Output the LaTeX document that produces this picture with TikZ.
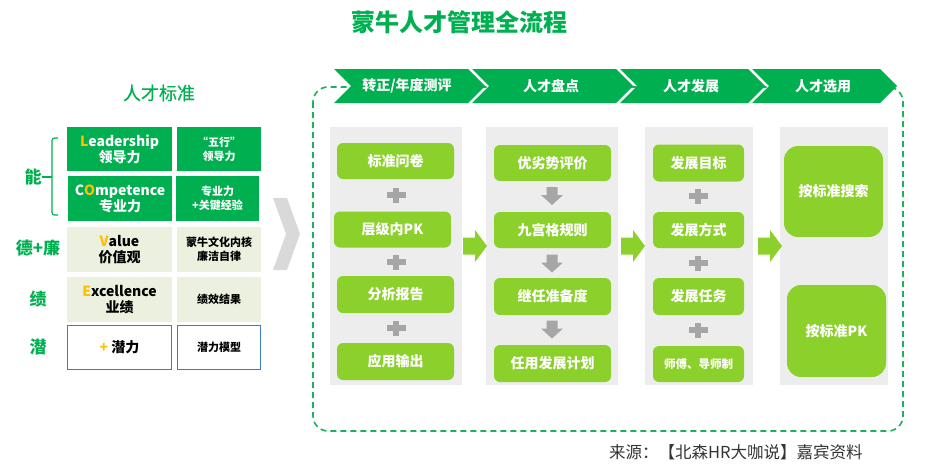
\documentclass[tikz,border=0pt]{standalone}
\usepackage{fontspec}
\setmainfont{Noto Sans CJK SC}
\newfontfamily\cjkmid{Noto Sans CJK SC}[FakeBold=0.6]
\definecolor{dg}{HTML}{00B050}
\definecolor{lg}{HTML}{8CD12B}
\definecolor{pg}{HTML}{EDEDED}
\definecolor{ag}{HTML}{A6A6A6}
\definecolor{lr}{HTML}{EBF1DE}
\definecolor{bl}{HTML}{3A7CC8}
\definecolor{og}{HTML}{FFC000}
\definecolor{cg}{HTML}{D9D9D9}
\definecolor{dsh}{HTML}{1DB15A}
\definecolor{srcc}{HTML}{333333}
\newcommand\fsz[2]{\fontsize{#1}{#2}\selectfont}
\begin{document}
\begin{tikzpicture}[x=1pt,y=-1pt,
  hdr/.style={font=\bfseries\fsz{14}{16}, text=white, inner sep=0pt},
  gbox/.style={fill=lg, rounded corners=6pt, text=white, font=\bfseries\fsz{14}{16}, inner sep=0pt, align=center},
  bigbox/.style={fill=lg, rounded corners=14pt, text=white, font=\bfseries\fsz{14}{16}, inner sep=0pt},
  panel/.style={fill=pg, inner sep=0pt},
  lrow/.style={inner sep=0pt, align=center, font=\bfseries\fsz{14}{16}},
  rrow/.style={inner sep=0pt, align=center, font=\bfseries\fsz{11}{14}},
  side/.style={text=dg, font=\bfseries\fsz{17}{19}, inner sep=0pt},
  plusmark/.pic={\fill[ag] (-9.5,-3) rectangle (9.5,3); \fill[ag] (-3,-7.5) rectangle (3,7.5);},
  downarrow/.pic={\fill[ag] (-5.5,-9) -- (5.5,-9) -- (5.5,-1) -- (11,-1) -- (0,9) -- (-11,-1) -- (-5.5,-1) -- cycle;},
  rightarrow/.pic={\fill[lg] (0,-8.5) -- (12,-8.5) -- (12,-16) -- (24,0) -- (12,16) -- (12,8.5) -- (0,8.5) -- cycle;}
]
\useasboundingbox (0,0) rectangle (945,474);

% title
\node[font=\bfseries\fsz{24}{28}, text=dg, inner sep=0pt] (title) at (459.5,22) {蒙牛人才管理全流程};

% ---------------- left part ----------------
\node[text=dg, font=\cjkmid\fsz{18}{20}, inner sep=0pt] (std) at (159,93) {人才标准};

\node[lrow, fill=dg, text=white, minimum width=105pt, minimum height=44pt] (r1a) at (119.5,149) {{\color{og}L}eadership\\领导力};
\node[rrow, fill=dg, text=white, minimum width=84pt, minimum height=44pt] (r1b) at (219,149) {“五行”\\领导力};
\node[lrow, fill=dg, text=white, minimum width=104pt, minimum height=45pt] (r2a) at (120,198.5) {C{\color{og}O}mpetence\\专业力};
\node[rrow, fill=dg, text=white, minimum width=83pt, minimum height=45pt] (r2b) at (217.5,198.5) {专业力\\+关键经验};
\node[lrow, fill=lr, text=black, minimum width=105pt, minimum height=45pt] (r3a) at (119.5,249.5) {{\color{og}V}alue\\价值观};
\node[rrow, fill=lr, text=black, minimum width=84pt, minimum height=45pt] (r3b) at (219,249.5) {蒙牛文化内核\\廉洁自律};
\node[lrow, fill=lr, text=black, minimum width=105pt, minimum height=45pt] (r4a) at (119.5,299.5) {{\color{og}E}xcellence\\业绩};
\node[rrow, fill=lr, text=black, minimum width=84pt, minimum height=45pt] (r4b) at (219,299.5) {绩效结果};
\node[lrow, fill=white, draw=bl, line width=1.4pt, text=black, minimum width=104pt, minimum height=44pt] (r5a) at (119.5,347.5) {{\color{og}+} 潜力};
\node[rrow, fill=white, draw=bl, line width=1.4pt, text=black, minimum width=83pt, minimum height=44pt] (r5b) at (219,347.5) {潜力模型};

\node[side] (neng) at (33,177) {能};
\node[side] (de) at (38,248) {德+廉};
\node[side] (ji) at (38,299) {绩};
\node[side] (qian) at (38,347) {潜};

\coordinate (brmid) at (52,177);
\draw[dg, line width=1.2pt, rounded corners=2.5pt] (58,138) -- (52,138) -- (52,215) -- (58,215);
\draw[dg, line width=1.2pt] (neng.east) -- (brmid);

% big grey chevron
\fill[cg] (273,198) -- (287,198) -- (300,234) -- (287,270) -- (273,270) -- (286,234) -- cycle;

% ---------------- right part ----------------
\draw[dsh, line width=1.6pt, dash pattern=on 6pt off 4pt, rounded corners=15pt] (313,87) rectangle (903,431);

\foreach \L/\R in {334/468, 472/616, 620/748, 752/880}{
  \fill[dg] (\L,69) -- (\R,69) -- (\R+17,86) -- (\R,103) -- (\L,103) -- (\L+17,86) -- cycle;
}
\node[hdr] (h1) at (407,86) {转正/年度测评};
\node[hdr] (h2) at (551,86) {人才盘点};
\node[hdr] (h3) at (691,86) {人才发展};
\node[hdr] (h4) at (823,86) {人才选用};

% panels
\node[panel, minimum width=132pt, minimum height=258pt] (p1) at (396,256) {};
\node[panel, minimum width=132pt, minimum height=258pt] (p2) at (552,256) {};
\node[panel, minimum width=108pt, minimum height=258pt] (p3) at (699,256) {};
\node[panel, minimum width=108pt, minimum height=258pt] (p4) at (834,256) {};

% panel 1
\node[gbox, minimum width=117pt, minimum height=36pt] (a1) at (395.5,161) {标准问卷};
\node[gbox, minimum width=117pt, minimum height=36pt] (a2) at (392.5,229.5) {层级内PK};
\node[gbox, minimum width=117pt, minimum height=37pt] (a3) at (395.5,294.5) {分析报告};
\node[gbox, minimum width=117pt, minimum height=37pt] (a4) at (395.5,361.5) {应用输出};
\pic at (396,195) {plusmark};
\pic at (396,262) {plusmark};
\pic at (396,328) {plusmark};

% panel 2
\node[gbox, minimum width=117pt, minimum height=36pt] (b1) at (552.5,163) {优劣势评价};
\node[gbox, minimum width=117pt, minimum height=36pt] (b2) at (552.5,230) {九宫格规则};
\node[gbox, minimum width=117pt, minimum height=37pt] (b3) at (552.5,296.5) {继任准备度};
\node[gbox, minimum width=117pt, minimum height=37pt] (b4) at (552.5,363.5) {任用发展计划};
\pic at (552,196) {downarrow};
\pic at (552,263.5) {downarrow};
\pic at (552,329.5) {downarrow};

% panel 3
\node[gbox, minimum width=91pt, minimum height=37pt] (c1) at (698.5,163) {发展目标};
\node[gbox, minimum width=91pt, minimum height=36pt] (c2) at (698.5,230) {发展方式};
\node[gbox, minimum width=91pt, minimum height=37pt] (c3) at (698.5,296.5) {发展任务};
\node[gbox, minimum width=91pt, minimum height=36pt, font=\bfseries\fsz{11.5}{13}] (c4) at (698.5,364) {师傅、导师制};
\pic at (698,196) {plusmark};
\pic at (698,263) {plusmark};
\pic at (698,330) {plusmark};

% panel 4
\node[bigbox, minimum width=99pt, minimum height=91pt] (d1) at (833.5,191.5) {按标准搜索};
\node[bigbox, minimum width=99pt, minimum height=92pt] (d2) at (836.5,331) {按标准PK};

% arrows between panels
\pic at (463,246) {rightarrow};
\pic at (621,246) {rightarrow};
\pic at (758,246) {rightarrow};

% source
\node[anchor=west, text=srcc, font=\fsz{16.5}{18}, inner sep=0pt] (src) at (609,452) {来源：【北森HR大咖说】嘉宾资料};
\end{tikzpicture}
\end{document}
